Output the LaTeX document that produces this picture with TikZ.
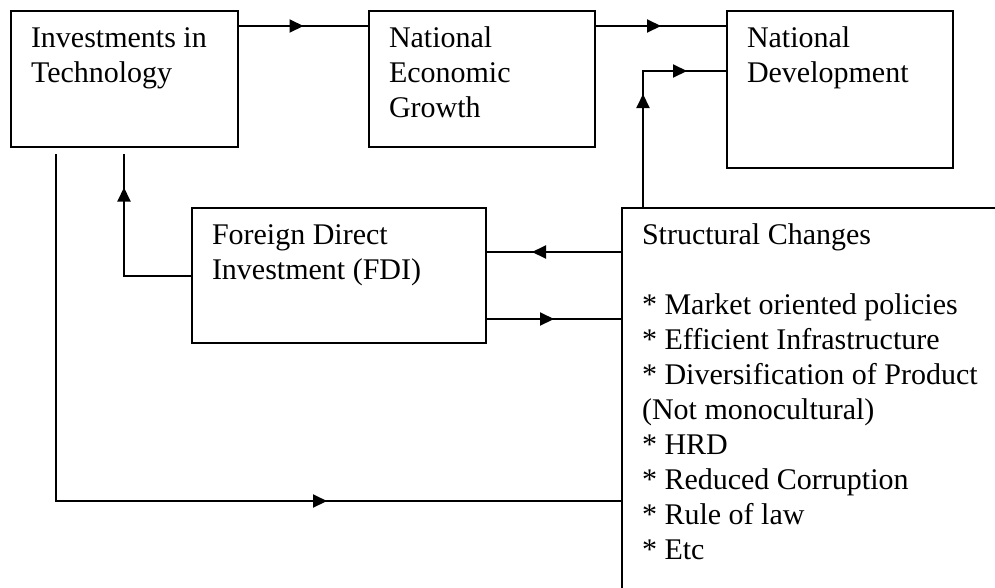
\documentclass[tikz,border=0pt]{standalone}
\usepackage{fontspec}
\setmainfont{Liberation Serif}
\usetikzlibrary{arrows.meta,positioning,decorations.markings}
\tikzset{tri/.tip={Triangle[length=14pt,width=13pt]}}

\begin{document}
\begin{tikzpicture}[
 x=1pt,y=-1pt,
 node distance=129pt,
 box/.style={draw,line width=2pt,anchor=north west,align=flush left,inner xsep=20pt,inner ysep=16pt,text height=20pt,font=\fontsize{30}{35}\selectfont},
 conn/.style={line width=2pt},
 tipat/.style={postaction={decorate},decoration={markings,mark=at position #1 with {\arrow{tri}}}},
 twotips/.style 2 args={postaction={decorate},decoration={markings,mark=at position #1 with {\arrow{tri}},mark=at position #2 with {\arrow{tri}}}}
]
\useasboundingbox (0,0) rectangle (995,587);
\clip (0,0) rectangle (995,587);
% boxes
\node[box,text width=187pt,text depth=84pt] (inv) at (10,10) {Investments in\\Technology};
\node[box,text width=186pt,text depth=84pt,right=of inv] (neg) {National\\Economic\\Growth};
\node[box,text width=186pt,text depth=105pt] (nd) at (726,10) {National\\Development};
\node[box,text width=254pt,text depth=83pt] (fdi) at (191,207) {Foreign Direct\\Investment (FDI)};
\node[box,text width=360pt,text depth=400pt] (struc) at (621,207) {Structural Changes\\[35pt]{*} Market oriented policies\\{*} Efficient Infrastructure\\{*} Diversification of Product\\(Not monocultural)\\{*} HRD\\{*} Reduced Corruption\\{*} Rule of law\\{*} Etc};
% links
\draw[conn,tipat=0.5] ([yshift=-16pt]inv.north east) -- ([yshift=-16pt]neg.north west);
\draw[conn,tipat=0.5] ([yshift=-16pt]neg.north east) -- ([yshift=-16pt]nd.north west);
\draw[conn,twotips={113pt}{180pt}] ([xshift=22pt]struc.north west) |- ([yshift=-61pt]nd.north west);
\draw[conn,tipat=89pt] ([yshift=-45pt]struc.north west) -- ([yshift=-45pt]fdi.north east);
\draw[conn,tipat=0.5] ([yshift=-112pt]fdi.north east) -- ([yshift=-112pt]struc.north west);
\draw[conn,tipat=155pt,shorten >=6pt] (fdi.west) -| ([xshift=114pt]inv.south west);
\draw[conn,tipat=624pt,shorten <=6pt] ([xshift=46pt]inv.south west) |- ([yshift=-294pt]struc.north west);
\end{tikzpicture}
\end{document}
